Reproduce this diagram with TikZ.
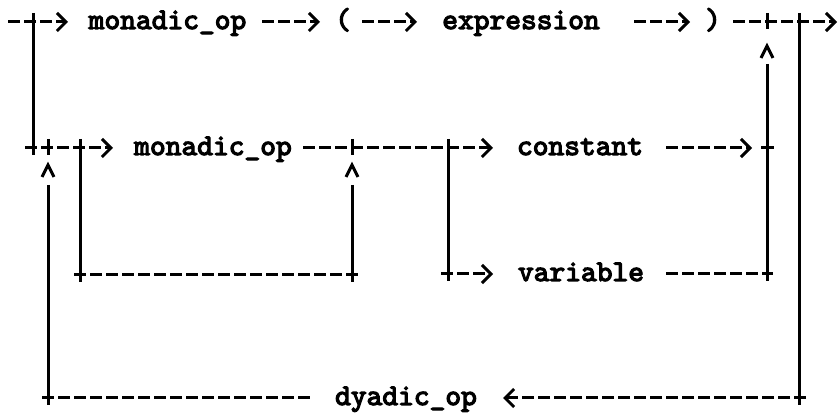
\documentclass[tikz,border=0pt]{standalone}
\usepackage{fontspec}
\newfontfamily\tw{lmmono10-regular.otf}[FakeStretch=1.0, FakeBold=4]
\usetikzlibrary{arrows.meta}
\newcommand\tickat[1]{\draw[vl] ([yshift=9pt]#1) -- ([yshift=-7pt]#1);}
\newcommand\caretat[1]{\draw[vl, line join=miter] ([shift={(-6pt,-12pt)}]#1) -- (#1) -- ([shift={(6pt,-12pt)}]#1);}
\begin{document}
\begin{tikzpicture}[x=1pt,y=-1pt,
  lbl/.style={inner sep=0pt, font=\tw\fontsize{30}{31}\selectfont, anchor=base},
  hl/.style={line width=3pt, dash pattern=on 12pt off 4pt},
  vl/.style={line width=3pt},
  fwd/.style={hl, -{Straight Barb[length=9pt,width=18pt]}},
]
\useasboundingbox (0,0) rectangle (839,419);
% ---- row 1
\coordinate (r1s) at (8,22);
\coordinate (r1j) at (33,22);
\coordinate (r1t) at (68,22);
\node[lbl] (mon1) at (167.5,29) {monadic\_op};
\coordinate (r1b) at (262,22); \coordinate (r1bt) at (320,22);
\node[lbl] (lpar) at (343,29) {(};
\coordinate (r1c) at (362,22); \coordinate (r1ct) at (417,22);
\node[lbl] (expr) at (521,29) {expression};
\coordinate (r1d) at (634,22); \coordinate (r1dt) at (690,22);
\node[lbl] (rpar) at (713,29) {)};
\coordinate (r1e) at (733,22); \coordinate (jA) at (767,22);
\coordinate (jB) at (799,22); \coordinate (out) at (837,22);
\draw[fwd] (r1s) -- (r1t);
\draw[fwd] (r1b) -- (r1bt);
\draw[fwd] (r1c) -- (r1ct);
\draw[fwd] (r1d) -- (r1dt);
\draw[fwd] (r1e) -- (out);
% ---- row 2
\coordinate (r2s) at (25,148); \coordinate (r2j1) at (33,148);
\coordinate (r2j2) at (48,148); \coordinate (r2j3) at (80,148);
\coordinate (r2t) at (113,148);
\node[lbl] (mon2) at (213,155) {monadic\_op};
\coordinate (r2b) at (303,148); \coordinate (r2j4) at (352,148);
\coordinate (r2j5) at (448,148); \coordinate (r2bt) at (493,148);
\node[lbl] (const) at (580,155) {constant};
\coordinate (r2c) at (666,148); \coordinate (r2ct) at (752,148);
\coordinate (r2j6) at (767,148);
\draw[fwd] (r2s) -- (r2t);
\draw[fwd] (r2b) -- (r2bt);
\draw[fwd] (r2c) -- (r2ct);
\draw[vl] ([xshift=-6pt]r2j6) -- ([xshift=7pt]r2j6);
% ---- row 3
\coordinate (r3s) at (441,274); \coordinate (r3j1) at (448,274);
\coordinate (r3t) at (493,274);
\node[lbl] (var) at (581,281) {variable};
\coordinate (r3c) at (666,274); \coordinate (r3j2) at (767,274);
\draw[fwd] (r3s) -- (r3t);
\draw[hl] (r3c) -- ([xshift=6pt]r3j2);
% loop under monadic_op
\coordinate (lpA) at (80,275); \coordinate (lpB) at (352,275);
\draw[hl] ([xshift=-6pt]lpA) -- ([xshift=6pt]lpB);
% ---- row 4
\coordinate (r4j1) at (48,398); \coordinate (r4a) at (42,398);
\coordinate (r4b) at (310,398);
\node[lbl] (dya) at (406,405) {dyadic\_op};
\coordinate (r4t) at (503,398); \coordinate (r4j2) at (799,398);
\coordinate (r4e) at (806,398);
\draw[hl] (r4a) -- (r4b);
\draw[fwd] (r4e) -- (r4t);
% ---- verticals
\draw[vl] ([yshift=9pt]r1j) -- ([yshift=-7pt]r2j1);
\tickat{jA}
\draw[vl] ([yshift=9pt]jB) -- ([yshift=-7pt]r4j2);
\tickat{r2j2}
\coordinate (c2) at ([yshift=-17pt]r2j2);
\caretat{c2}
\draw[vl] ([yshift=-37pt]r2j2) -- ([yshift=-7pt]r4j1);
\draw[vl] ([yshift=9pt]r2j3) -- ([yshift=-7pt]lpA);
\tickat{r2j4}
\coordinate (c4) at ([yshift=-17pt]r2j4);
\caretat{c4}
\draw[vl] ([yshift=-37pt]r2j4) -- ([yshift=-7pt]lpB);
\draw[vl] ([yshift=9pt]r2j5) -- ([yshift=-7pt]r3j1);
\coordinate (c6) at ([yshift=-24pt]jA);
\caretat{c6}
\draw[vl] ([yshift=-42pt]jA) -- ([yshift=-7pt]r3j2);
\end{tikzpicture}
\end{document}
